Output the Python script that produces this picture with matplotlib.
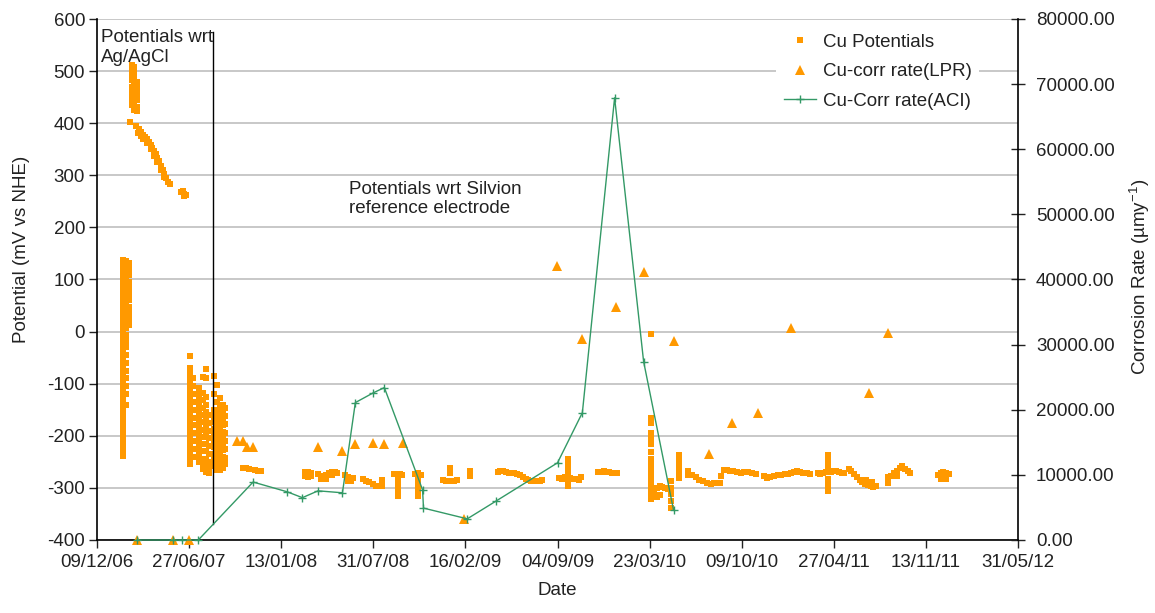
import numpy as np
import matplotlib
matplotlib.use("Agg")
import matplotlib.pyplot as plt
import matplotlib.dates as mdates
from matplotlib.ticker import FormatStrFormatter, MultipleLocator

plt.rcParams["font.family"] = ["Liberation Sans", "DejaVu Sans"]
plt.rcParams["mathtext.fontset"] = "custom"
plt.rcParams["mathtext.rm"] = "Liberation Sans"

# ---------------------------------------------------
# Data (days after 09/12/06)
# ---------------------------------------------------
start = np.datetime64("2006-12-09")

# Cu potentials (mV vs NHE): one day, readings on that day
pot_day = [
    56, 63, 69,
    72, 76, 81, 87,
    85, 89, 91, 96, 100, 104, 109, 113, 117, 120, 124, 128, 131, 135, 139, 143, 146, 150, 154, 158,
    183, 186, 190, 194, 188,
    203, 208, 222, 230, 237, 243, 254, 261, 267, 273, 279,
    317, 323, 329, 343, 349, 356,
    452, 458, 465, 480, 486, 492, 498, 504, 510, 516, 522,
    539, 545, 551, 557, 578, 585, 591, 600, 606, 612,
    618, 645, 651, 658, 663, 654, 691, 697, 703, 698,
    752, 758, 764, 767, 770, 776, 782, 810,
    870, 876, 882, 888, 894, 900, 906, 912, 918, 925, 931, 937, 943, 949, 955, 961, 967,
    1004, 1010, 1016, 1022, 1028, 1034, 1040, 1046, 1050,
    1088, 1094, 1100, 1106, 1112, 1118, 1124, 1130,
    1202, 1209, 1215, 1222, 1228, 1234, 1240, 1246, 1264,
    1283, 1291, 1300, 1308, 1317, 1325, 1333, 1339, 1352, 1356, 1362, 1368, 1375, 1382,
    1390, 1398, 1406, 1414, 1422, 1430,
    1448, 1455, 1462, 1470, 1478, 1486, 1494, 1500, 1507, 1514, 1520, 1527, 1534, 1541, 1548,
    1565, 1571, 1577, 1583, 1587, 1593, 1599, 1605, 1611, 1617, 1622,
    1632, 1638, 1644, 1650, 1656, 1662, 1668, 1674, 1680, 1686, 1692, 1670, 1682,
    1717, 1725, 1731, 1737, 1743, 1749, 1755, 1761, 1766,
    1826, 1832, 1838, 1844, 1850,
]
pot_mv = [
    [138, 128, 118, 108, 98, 88, 77, 66, 55, 44, 33, 22, 11, 0, -11, -22, -33, -44, -55, -66, -77, -88,
     -99, -110, -121, -132, -143, -154, -165, -176, -187, -198, -209, -220, -230, -238],
    [136, 125, 114, 102, 90, 78, 66, 54, 42, 30, 18, 6, -6, -18, -30, -45, -60, -75, -90, -105, -120, -140],
    [132, 120, 108, 96, 84, 72, 60, 48, 36, 24, 12],
    [402],
    [512, 502, 492, 482, 470, 458, 446, 434],
    [508, 496, 484, 472, 460, 448, 436, 425],
    [480, 468, 456, 444, 432, 424],
    [394], [382], [388], [383, 375], [378, 370], [374], [370, 362], [364], [358, 350], [353], [347, 338],
    [340], [334, 326], [327], [318, 310], [310], [303, 296], [295], [288], [284],
    [268], [270], [265], [262], [260],
    [-46, -70, -81, -92, -103, -114, -125, -136, -147, -158, -169, -180, -191, -202, -213, -224, -235, -246, -254],
    [-90, -105, -120, -135, -150, -165, -180, -195, -210, -225, -240],
    [-108, -120, -131, -142, -153, -164, -175, -186, -197, -208, -219, -230, -241, -250],
    [-88, -118, -132, -146, -160, -174, -188, -202, -216, -230, -244, -256, -264],
    [-71, -90, -125, -140, -155, -170, -185, -200, -215, -230, -245, -258, -270],
    [-160, -175, -190, -205, -220, -235, -250, -262, -271],
    [-85, -119, -150, -162, -174, -186, -198, -210, -222, -234, -246, -258],
    [-102, -135, -152, -164, -176, -188, -200, -212, -224, -236, -248, -260, -266],
    [-127, -146, -160, -172, -184, -196, -208, -220, -232, -244, -256, -265],
    [-140, -155, -168, -180, -192, -204, -216, -228, -240, -252, -262],
    [-146, -162, -178, -194, -210, -226, -242, -255],
    [-262], [-262], [-263], [-266], [-267], [-268],
    [-270, -278], [-270, -279], [-271, -278], [-274], [-277, -283], [-277, -283], [-276, -282], [-272],
    [-270, -276], [-270], [-272],
    [-276], [-280, -287], [-282, -287], [-281], [-282], [-286], [-288], [-293], [-296], [-296],
    [-285, -297], [-273], [-274], [-273], [-276], [-285, -296, -306, -315], [-274], [-271], [-275],
    [-283, -294, -305, -316],
    [-285], [-287], [-287], [-262, -272], [-287], [-286], [-285], [-268, -278],
    [-270], [-268], [-268], [-270], [-271], [-271], [-272], [-274], [-276], [-280], [-283], [-285], [-286],
    [-286], [-287], [-287], [-285],
    [-281], [-282], [-280], [-244, -255, -266, -277, -288, -296], [-281], [-283], [-283], [-284], [-280],
    [-270], [-269], [-268], [-269], [-270], [-271], [-272], [-271],
    [-4, -165, -175, -195, -205, -215, -232, -245, -255, -265, -275, -285, -295, -305, -315, -322],
    [-305], [-300, -318], [-297, -313], [-298], [-300], [-303], [-287, -300, -312, -325, -338],
    [-236, -248, -260, -272, -281],
    [-268, -276], [-276], [-280], [-284], [-287], [-290], [-292], [-290], [-290], [-278], [-266], [-266],
    [-268], [-268],
    [-270], [-271], [-270], [-270], [-272], [-273],
    [-278], [-281], [-280], [-278], [-276], [-276], [-274], [-273], [-272], [-270], [-268], [-270], [-272],
    [-272], [-274],
    [-272], [-274], [-272], [-270], [-236, -248, -259, -283, -294, -306], [-270], [-268], [-268], [-270],
    [-272], [-271],
    [-264], [-268], [-273], [-280], [-284], [-288], [-292], [-295], [-297], [-298], [-297], [-285], [-289],
    [-290, -280], [-277], [-272], [-268, -278], [-262], [-258], [-263], [-267], [-272],
    [-275], [-272, -283], [-270], [-271, -282], [-273],
]

# Cu corrosion rate, LPR (um/y)
lpr_day = [87, 165, 200, 304, 317, 326, 339, 480, 533, 561, 600, 624, 665, 796,
           998, 1054, 1126, 1187, 1252, 1330, 1378, 1435, 1507, 1676, 1717]
lpr_rate = [0, 0, 0, 15200, 15200, 14300, 14300, 14300, 13700, 14800, 14900, 14800, 14900, 3200,
            42100, 30800, 35800, 41200, 30500, 13200, 18000, 19500, 32500, 22600, 31800]

# Cu corrosion rate, ACI (um/y)
aci_day = [87, 165, 185, 220, 339, 413, 446, 480, 533, 561, 600, 624, 707, 709,
           804, 867, 1000, 1054, 1124, 1187, 1252]
aci_rate = [0, 0, 0, 0, 8900, 7400, 6500, 7550, 7250, 21100, 22600, 23400, 7700, 4900,
            3250, 6000, 11850, 19550, 67900, 27400, 4600]

# change of reference electrode
switch_day = 252

# ---------------------------------------------------
# Plot
# ---------------------------------------------------
x_pot = []
y_pot = []
for d, vals in zip(pot_day, pot_mv):
    for v in vals:
        x_pot.append(start + np.timedelta64(d, "D"))
        y_pot.append(v)

x_lpr = start + np.array(lpr_day).astype("timedelta64[D]")
x_aci = start + np.array(aci_day).astype("timedelta64[D]")
x_switch = start + np.timedelta64(switch_day, "D")

orange = "#FF9900"
green = "#339966"
txt = "#222222"
fs = 13.5

fig = plt.figure(figsize=(11.55, 6.13), dpi=100)
ax = fig.add_axes([97 / 1155, 1 - 540 / 613, 921 / 1155, 521 / 613])
ax2 = ax.twinx()

ax.yaxis.grid(True, color="#c8c8c8", lw=1.4)
ax.set_axisbelow(True)

h_pot, = ax.plot(x_pot, y_pot, ls="none", marker="s", ms=4.0, mew=0, color=orange,
                 label="Cu Potentials")
ax.plot([x_switch, x_switch], [-369, 575], color="black", lw=1.0)

h_lpr, = ax2.plot(x_lpr, lpr_rate, ls="none", marker="^", ms=7, mew=0, color=orange,
                  clip_on=False, label="Cu-corr rate(LPR)")
h_aci, = ax2.plot(x_aci, aci_rate, color=green, lw=1.0, marker="+", ms=6, mew=1.0,
                  clip_on=False, label="Cu-Corr rate(ACI)")

# axes limits / ticks
ax.set_xlim(start, start + np.timedelta64(2000, "D"))
ax.set_xticks([start + np.timedelta64(200 * k, "D") for k in range(11)])
ax.xaxis.set_major_formatter(mdates.DateFormatter("%d/%m/%y"))
ax.set_ylim(-400, 600)
ax.yaxis.set_major_locator(MultipleLocator(100))
ax.yaxis.set_major_formatter(FormatStrFormatter("%d"))
ax2.set_ylim(0, 80000)
ax2.yaxis.set_major_locator(MultipleLocator(10000))
ax2.yaxis.set_major_formatter(FormatStrFormatter("%.2f"))

ax.tick_params(axis="y", direction="out", length=6, width=1, pad=2.5, labelsize=fs, colors=txt)
ax.tick_params(axis="x", direction="out", length=6, width=1, pad=4, labelsize=fs, colors=txt)
ax2.tick_params(axis="y", direction="inout", length=10, width=1, pad=8, labelsize=fs, colors=txt)

for a in (ax, ax2):
    a.spines["top"].set_visible(False)
ax.spines["right"].set_visible(False)
ax2.spines["left"].set_visible(False)
ax2.spines["bottom"].set_visible(False)
ax.spines["left"].set_linewidth(1.2)
ax.spines["bottom"].set_linewidth(1.2)
ax2.spines["right"].set_linewidth(1.2)

ax.set_xlabel("Date", fontsize=fs, color=txt, labelpad=8)
ax.set_ylabel("Potential (mV vs NHE)", fontsize=fs, color=txt)
ax.yaxis.set_label_coords(-0.073, 0.557)
ax2.set_ylabel("Corrosion Rate (µmy$^{-1}$)", fontsize=fs, color=txt)
ax2.yaxis.set_label_coords(1.119, 0.505)

# annotations
ax.text(start + np.timedelta64(9, "D"), 580, "Potentials wrt\nAg/AgCl", fontsize=fs,
        color=txt, ha="left", va="top", linespacing=1.2)
ax.text(start + np.timedelta64(548, "D"), 290, "Potentials wrt Silvion\nreference electrode",
        fontsize=fs, color=txt, ha="left", va="top", linespacing=1.2)

leg = fig.legend([h_pot, h_lpr, h_aci], [h.get_label() for h in (h_pot, h_lpr, h_aci)],
                 loc="upper left", bbox_to_anchor=(776 / 1155, 1 - 26 / 613),
                 frameon=True, facecolor="white", edgecolor="none", framealpha=1,
                 fontsize=fs, handlelength=1.75, handletextpad=0.35, labelspacing=0.66,
                 borderpad=0.4, borderaxespad=0, fancybox=False)
for t in leg.get_texts():
    t.set_color(txt)

fig.savefig("out.png", dpi=100)
